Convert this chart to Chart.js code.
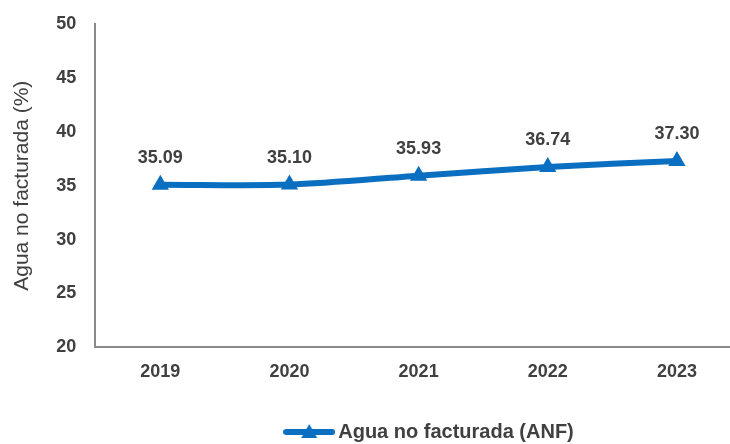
<!DOCTYPE html>
<html>
<head>
<meta charset="utf-8">
<script src="https://cdn.jsdelivr.net/npm/chart.js@4.4.1/dist/chart.umd.min.js"></script>
<style>
  html, body { margin: 0; padding: 0; background: #fff; }
  #wrap { width: 730px; height: 444px; }
</style>
</head>
<body>
<div id="wrap"><canvas id="anfChart"></canvas></div>
<script>
// data
const years = [2019, 2020, 2021, 2022, 2023];
const anfValues = [35.09, 35.10, 35.93, 36.74, 37.30];
const yTicks = [20, 25, 30, 35, 40, 45, 50];
const seriesName = 'Agua no facturada (ANF)';
const yTitle = 'Agua no facturada (%)';

const blue = '#0a6fc0';
const textGrey = '#404040';
const fontFamily = 'Arial, "Liberation Sans", sans-serif';

// legend marker: line with a triangle in the middle
const legendIcon = document.createElement('canvas');
legendIcon.width = 52;
legendIcon.height = 20;
(function () {
    const c = legendIcon.getContext('2d');
    c.strokeStyle = blue;
    c.fillStyle = blue;
    c.lineWidth = 6;
    c.lineCap = 'round';
    c.beginPath();
    c.moveTo(3, 10);
    c.lineTo(49, 10);
    c.stroke();
    c.beginPath();
    c.moveTo(26, 2);
    c.lineTo(34, 16);
    c.lineTo(18, 16);
    c.closePath();
    c.fill();
})();

// value labels above points
const valueLabels = {
    id: 'valueLabels',
    afterDatasetsDraw(chart) {
        const ctx = chart.ctx;
        const meta = chart.getDatasetMeta(0);
        ctx.save();
        ctx.font = 'bold 18px ' + fontFamily;
        ctx.fillStyle = textGrey;
        ctx.textAlign = 'center';
        ctx.textBaseline = 'middle';
        meta.data.forEach(function (pt, i) {
            ctx.fillText(anfValues[i].toFixed(2), pt.x, pt.y - 27);
        });
        ctx.restore();
    }
};

// the legend sits right of the canvas centre and close to the bottom in the original
const legendShift = {
    id: 'legendShift',
    afterLayout(chart) {
        chart.legend.left += 62;
        chart.legend.right += 62;
        chart.legend.top += 8;
        chart.legend.bottom += 8;
    }
};

const ctx = document.getElementById('anfChart').getContext('2d');
new Chart(ctx, {
    type: 'line',
    data: {
        datasets: [{
            label: seriesName,
            data: years.map(function (y, i) { return { x: y, y: anfValues[i] }; }),
            borderColor: blue,
            backgroundColor: blue,
            borderWidth: 6,
            tension: 0.3,
            pointStyle: 'triangle',
            pointRadius: 8,
            pointBorderWidth: 2,
            pointBackgroundColor: blue,
            pointBorderColor: blue
        }]
    },
    options: {
        responsive: true,
        maintainAspectRatio: false,
        animation: false,
        layout: { autoPadding: false, padding: { top: 24, right: 0, left: 10, bottom: 0 } },
        plugins: {
            legend: {
                display: true,
                position: 'bottom',
                title: {
                    display: true,
                    text: ' ',
                    font: { size: 10 },
                    padding: { top: 1, bottom: 0 }
                },
                labels: {
                    usePointStyle: true,
                    pointStyle: legendIcon,
                    pointStyleWidth: 38,
                    boxHeight: 20,
                    padding: 4,
                    color: textGrey,
                    font: { family: fontFamily, size: 20, weight: 'bold' },
                    generateLabels: function (chart) {
                        return [{
                            text: seriesName,
                            fontColor: textGrey,
                            pointStyle: legendIcon,
                            fillStyle: blue,
                            strokeStyle: blue,
                            lineWidth: 0,
                            hidden: false,
                            datasetIndex: 0
                        }];
                    }
                }
            },
            tooltip: { enabled: false },
            title: { display: false }
        },
        scales: {
            x: {
                type: 'linear',
                min: 2018.496,
                max: 2023.411,
                afterBuildTicks: function (axis) {
                    axis.ticks = years.map(function (v) { return { value: v }; });
                },
                grid: { display: false, drawTicks: false },
                border: { display: true, color: '#8a8a8a', width: 2 },
                ticks: {
                    color: textGrey,
                    padding: 14,
                    font: { family: fontFamily, size: 18, weight: 'bold' },
                    callback: function (v) { return String(v); }
                }
            },
            y: {
                min: 20,
                max: 50,
                afterBuildTicks: function (axis) {
                    axis.ticks = yTicks.map(function (v) { return { value: v }; });
                },
                afterFit: function (axis) {
                    axis.paddingTop = 0;
                },
                grid: { display: false, drawTicks: false },
                border: { display: true, color: '#8a8a8a', width: 2 },
                ticks: {
                    color: textGrey,
                    padding: 19,
                    font: { family: fontFamily, size: 18, weight: 'bold' }
                },
                title: {
                    display: true,
                    text: yTitle,
                    color: textGrey,
                    padding: { top: 0, bottom: 2 },
                    font: { family: fontFamily, size: 21 }
                }
            }
        }
    },
    plugins: [valueLabels, legendShift]
});
</script>
</body>
</html>
